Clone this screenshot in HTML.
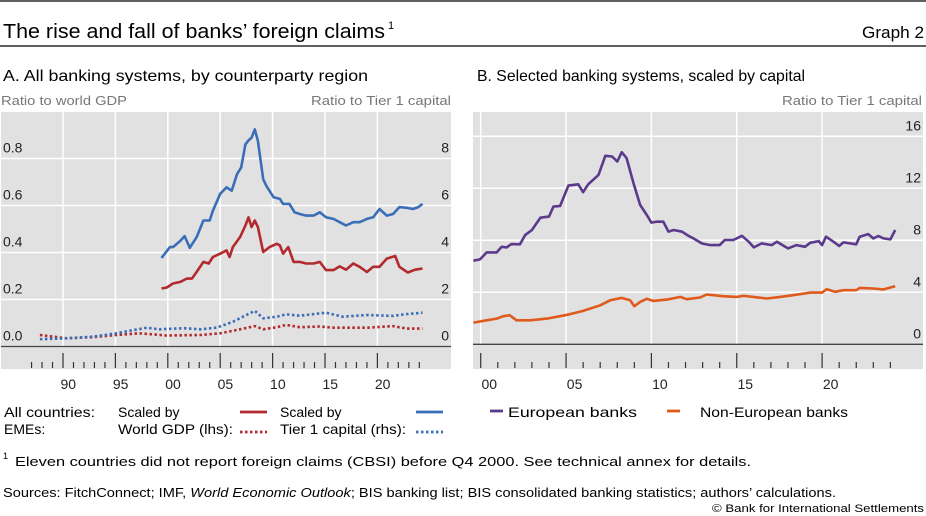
<!DOCTYPE html>
<html><head><meta charset="utf-8"><style>
html,body{margin:0;padding:0;background:#fff;}
svg{display:block;font-family:"Liberation Sans",sans-serif;}
</style></head><body>
<svg id="c" width="926" height="516" viewBox="0 0 926 516">
<line x1="0" y1="1" x2="926" y2="1" stroke="#000" stroke-width="1.2"/>
<text x="3" y="38" font-size="20" textLength="382" lengthAdjust="spacingAndGlyphs">The rise and fall of banks’ foreign claims</text>
<text x="388" y="29" font-size="11">1</text>
<text x="924" y="38" font-size="17" text-anchor="end" textLength="62" lengthAdjust="spacingAndGlyphs">Graph 2</text>
<line x1="0" y1="46" x2="926" y2="46" stroke="#000" stroke-width="1.2"/>
<text x="3" y="81" font-size="16" textLength="365" lengthAdjust="spacingAndGlyphs">A. All banking systems, by counterparty region</text>
<text x="477" y="81" font-size="16" textLength="328" lengthAdjust="spacingAndGlyphs">B. Selected banking systems, scaled by capital</text>
<text x="1" y="105" font-size="13" fill="#777" textLength="126" lengthAdjust="spacingAndGlyphs">Ratio to world GDP</text>
<text x="451" y="105" font-size="13" fill="#777" text-anchor="end" textLength="140" lengthAdjust="spacingAndGlyphs">Ratio to Tier 1 capital</text>
<text x="922" y="105" font-size="13" fill="#777" text-anchor="end" textLength="140" lengthAdjust="spacingAndGlyphs">Ratio to Tier 1 capital</text>
<g id="pa"></g>
<g id="pb"></g>
<g font-size="14">
<text x="4" y="417" textLength="91" lengthAdjust="spacingAndGlyphs">All countries:</text>
<text x="4" y="434">EMEs:</text>
<text x="118" y="417">Scaled by</text>
<text x="118" y="434" textLength="115" lengthAdjust="spacingAndGlyphs">World GDP (lhs):</text>
<line x1="240" y1="412" x2="267" y2="412" stroke="#b22a2e" stroke-width="2.8"/>
<line x1="240" y1="432" x2="267" y2="432" stroke="#b22a2e" stroke-width="2.8" stroke-dasharray="2.5 2.5"/>
<text x="280" y="417">Scaled by</text>
<text x="280" y="434" textLength="126" lengthAdjust="spacingAndGlyphs">Tier 1 capital (rhs):</text>
<line x1="416" y1="412" x2="443" y2="412" stroke="#3a6fb7" stroke-width="2.8"/>
<line x1="416" y1="432" x2="443" y2="432" stroke="#3a6fb7" stroke-width="2.8" stroke-dasharray="2.5 2.5"/>
<line x1="490" y1="411" x2="503" y2="411" stroke="#5b3a8c" stroke-width="2.8"/>
<text x="508" y="417" textLength="129" lengthAdjust="spacingAndGlyphs">European banks</text>
<line x1="667" y1="411" x2="680" y2="411" stroke="#e05a1e" stroke-width="2.8"/>
<text x="700" y="417" textLength="148" lengthAdjust="spacingAndGlyphs">Non-European banks</text>
</g>
<text x="3" y="459" font-size="9">1</text>
<text x="15" y="466" font-size="13" textLength="736" lengthAdjust="spacingAndGlyphs">Eleven countries did not report foreign claims (CBSI) before Q4 2000. See technical annex for details.</text>
<text x="3" y="497" font-size="13" textLength="833" lengthAdjust="spacingAndGlyphs">Sources: FitchConnect; IMF, <tspan font-style="italic">World Economic Outlook</tspan>; BIS banking list; BIS consolidated banking statistics; authors’ calculations.</text>
<text x="924" y="512" font-size="11" text-anchor="end" textLength="212" lengthAdjust="spacingAndGlyphs">© Bank for International Settlements</text>
</svg>
<script>
// Panel A data (values in lhs units; rhs = lhs*10)
const aAllTier1Years=[1999.4,2000.2,2000.5,2001.2,2001.6,2002.1,2002.75,2003.4,2004.0,2004.3,2005.0,2005.6,2006.1,2006.6,2007.0,2007.4,2007.7,2008.0,2008.3,2008.6,2009.1,2009.4,2010.1,2010.7,2011.0,2011.6,2012.1,2012.6,2013.2,2013.9,2014.5,2015.1,2015.8,2016.4,2017.0,2017.7,2018.3,2019.0,2019.6,2020.2,2020.9,2021.5,2022.1,2022.8,2023.4,2023.9,2024.3];
const aAllTier1=[3.77,4.23,4.23,4.5,4.7,4.2,4.65,5.36,5.36,5.78,6.5,6.77,6.63,7.33,7.62,8.6,8.77,8.89,9.24,8.75,7.12,6.84,6.35,6.28,6.07,6.07,5.71,5.64,5.57,5.57,5.71,5.5,5.43,5.29,5.15,5.29,5.29,5.43,5.5,5.85,5.57,5.64,5.93,5.9,5.85,5.93,6.07];
const aAllGdpYears=[1999.4,1999.9,2000.5,2001.2,2001.8,2002.3,2002.75,2003.4,2003.9,2004.3,2005.0,2005.6,2005.9,2006.2,2006.9,2007.4,2007.7,2008.0,2008.3,2008.6,2009.1,2009.7,2010.4,2010.7,2011.0,2011.5,2012.0,2012.6,2013.2,2013.9,2014.5,2015.1,2015.8,2016.4,2017.0,2017.7,2018.3,2019.0,2019.6,2020.2,2020.9,2021.7,2022.1,2022.9,2023.6,2024.3];
const aAllGdp=[0.247,0.251,0.268,0.275,0.289,0.289,0.317,0.36,0.353,0.381,0.395,0.409,0.381,0.423,0.466,0.515,0.55,0.508,0.536,0.508,0.402,0.423,0.437,0.43,0.395,0.423,0.36,0.36,0.353,0.353,0.36,0.325,0.325,0.341,0.327,0.353,0.339,0.317,0.339,0.339,0.374,0.385,0.339,0.315,0.327,0.332];
const aEmeTier1Years=[1987.8,1990.35,1992.9,1995.1,1996.7,1998.0,1999.2,2001.5,2003.1,2004.65,2006.25,2007.5,2008.3,2009.1,2010.4,2011.3,2012.6,2015.1,2016.7,2019.0,2021.5,2022.8,2024.3];
const aEmeTier1=[0.31,0.35,0.42,0.56,0.7,0.8,0.73,0.78,0.73,0.8,1.06,1.34,1.52,1.2,1.27,1.37,1.31,1.44,1.27,1.34,1.3,1.38,1.44];
const aEmeGdpYears=[1987.8,1990.35,1992.9,1995.1,1997.3,1999.9,2003.1,2005.0,2006.9,2008.3,2009.1,2010.4,2011.3,2012.6,2014.5,2015.8,2019.0,2021.5,2022.8,2024.3];
const aEmeGdp=[0.049,0.035,0.04,0.049,0.056,0.047,0.049,0.056,0.073,0.087,0.073,0.082,0.092,0.082,0.085,0.08,0.08,0.087,0.076,0.076];
const aLeftTicks=["0.0","0.2","0.4","0.6","0.8"];
const aLeftTickVals=[0,0.2,0.4,0.6,0.8];
const aRightTicks=["0","2","4","6","8"];
const aYearLabels=["90","95","00","05","10","15","20"];
const aYearLabelVals=[1990,1995,2000,2005,2010,2015,2020];
// Panel B data
const bEuroYears=[1999.57,1999.96,2000.35,2000.94,2001.23,2001.52,2001.8,2002.3,2002.6,2003.0,2003.5,2004.0,2004.26,2004.65,2005.14,2005.72,2006.0,2006.3,2006.9,2007.3,2007.7,2008.0,2008.26,2008.55,2008.95,2009.34,2009.73,2010.0,2010.3,2010.7,2011.0,2011.3,2011.8,2012.17,2012.46,2012.95,2013.44,2014.0,2014.3,2014.8,2015.3,2015.7,2016.0,2016.46,2017.05,2017.35,2018.0,2018.5,2019.0,2019.3,2019.8,2020.0,2020.23,2020.66,2021.0,2021.25,2021.64,2022.0,2022.2,2022.7,2023.0,2023.3,2023.6,2024.0,2024.28];
const bEuro=[6.43,6.53,7.07,7.07,7.5,7.45,7.71,7.69,8.4,8.79,9.74,9.82,10.59,10.64,12.21,12.31,11.7,12.31,13.03,14.5,14.45,14.06,14.78,14.32,12.39,10.72,9.95,9.36,9.43,9.43,8.66,8.79,8.66,8.35,8.15,7.76,7.63,7.63,8.02,8.02,8.35,7.89,7.45,7.76,7.63,7.89,7.38,7.63,7.5,7.81,7.94,7.63,8.28,7.89,7.56,7.84,7.76,7.69,8.28,8.48,8.15,8.33,8.15,8.07,8.79];
const bNonEuroYears=[1999.57,2000.35,2000.94,2001.33,2001.7,2002.1,2002.9,2003.87,2004.65,2005.2,2006.0,2007.0,2007.6,2008.26,2008.75,2009.0,2009.34,2009.73,2010.1,2010.9,2011.7,2012.07,2012.85,2013.24,2014.2,2015.0,2015.4,2016.76,2017.54,2018.3,2019.3,2020.0,2020.27,2020.76,2021.25,2022.0,2022.2,2023.0,2023.6,2024.28];
const bNonEuro=[1.67,1.85,1.98,2.16,2.24,1.85,1.85,1.98,2.16,2.31,2.57,3.0,3.39,3.57,3.39,2.93,3.26,3.5,3.34,3.44,3.65,3.47,3.6,3.83,3.7,3.65,3.73,3.52,3.65,3.78,3.98,3.98,4.24,4.04,4.16,4.16,4.34,4.29,4.22,4.47];
const bTicks=["0","4","8","12","16"];
const bTickVals=[0,4,8,12,16];
const bYearLabels=["00","05","10","15","20"];
const bYearLabelVals=[2000,2005,2010,2015,2020];

const NS="http://www.w3.org/2000/svg";
function mk(parent,tag,attrs){const e=document.createElementNS(NS,tag);for(const k in attrs)e.setAttribute(k,attrs[k]);parent.appendChild(e);return e;}

// Panel A axes
const ax=y=>63+(y-1990)*10.48;
const ay=v=>346.5-v*235;
const pa=document.getElementById('pa');
let r=mk(pa,'rect',{x:1,y:112,width:450,height:257,fill:'#e1e1e1'});


aYearLabelVals.forEach((yv,i)=>{
  const l=mk(pa,'line',{x1:ax(yv),x2:ax(yv),y1:112,y2:346,stroke:'#fff','stroke-width':1.5});
  
  
  const t=mk(pa,'text',{x:ax(yv+0.5),y:389,'font-size':14,'text-anchor':'middle',fill:'#222'});
  t.textContent=aYearLabels[i];
  
  
});
aLeftTickVals.forEach((v,i)=>{
  if(v>0){const g=mk(pa,'line',{x1:1,x2:451,y1:ay(v),y2:ay(v),stroke:'#fff','stroke-width':1.5});
  
  }
  const t=mk(pa,'text',{x:3,y:ay(v)-6,'font-size':14,fill:'#222'});
  t.textContent=aLeftTicks[i];
  
  
  const t2=mk(pa,'text',{x:449,y:ay(v)-6,'font-size':14,fill:'#222','text-anchor':'end'});
  t2.textContent=aRightTicks[i];
  
  
});
let bl=mk(pa,'line',{x1:1,x2:451,y1:346.5,y2:346.5,stroke:'#444','stroke-width':1.3});


for(let yr=1987;yr<=2024;yr++){
  const major=yr%5===0;
  const tk=mk(pa,'line',{x1:ax(yr),x2:ax(yr),y1:major?353:362,y2:368,stroke:'#333','stroke-width':1.2});
  
  
}
function series(parent,xs,ys,fx,fy,color,dash,name){
  const d=xs.map((x,i)=>(i?'L':'M')+fx(x).toFixed(1)+','+fy(ys[i]).toFixed(1)).join(' ');
  const p=mk(parent,'path',{d:d,fill:'none',stroke:color,'stroke-width':2.6,'stroke-linejoin':'round'});
  if(dash)p.setAttribute('stroke-dasharray',dash);
  
  
}
series(pa,aEmeGdpYears,aEmeGdp,ax,ay,'#b22a2e','2.5 2.5','eme-gdp-line');
series(pa,aEmeTier1Years,aEmeTier1,ax,v=>ay(v/10),'#3a6fb7','2.5 2.5','eme-tier1-line');
series(pa,aAllGdpYears,aAllGdp,ax,ay,'#b22a2e',null,'all-gdp-line');
series(pa,aAllTier1Years,aAllTier1,ax,v=>ay(v/10),'#3a6fb7',null,'all-tier1-line');

// Panel B axes
const bx=y=>480.7+(y-2000)*17.07;
const by=v=>344.3-v*13;
const pb=document.getElementById('pb');
r=mk(pb,'rect',{x:473,y:112,width:450,height:257,fill:'#e1e1e1'});


bYearLabelVals.forEach((yv,i)=>{
  const l=mk(pb,'line',{x1:bx(yv),x2:bx(yv),y1:112,y2:344,stroke:'#fff','stroke-width':1.5});
  
  
  const t=mk(pb,'text',{x:bx(yv+0.5),y:389,'font-size':14,'text-anchor':'middle',fill:'#222'});
  t.textContent=bYearLabels[i];
  
  
});
bTickVals.forEach((v,i)=>{
  if(v>0){const g=mk(pb,'line',{x1:473,x2:923,y1:by(v),y2:by(v),stroke:'#fff','stroke-width':1.5});
  
  }
  const t=mk(pb,'text',{x:921,y:by(v)-6,'font-size':14,fill:'#222','text-anchor':'end'});
  t.textContent=bTicks[i];
  
  
});
bl=mk(pb,'line',{x1:473,x2:923,y1:344.3,y2:344.3,stroke:'#444','stroke-width':1.3});


for(let yr=2000;yr<=2024;yr++){
  const major=yr%5===0;
  const tk=mk(pb,'line',{x1:bx(yr),x2:bx(yr),y1:major?353:362,y2:368,stroke:'#333','stroke-width':1.2});
  
  
}
series(pb,bNonEuroYears,bNonEuro,bx,by,'#e05a1e',null,'non-european-banks-line');
series(pb,bEuroYears,bEuro,bx,by,'#5b3a8c',null,'european-banks-line');
</script>
</body></html>
